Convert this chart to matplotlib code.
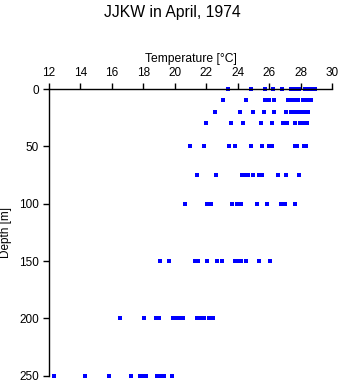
import numpy as np
import matplotlib
matplotlib.use('Agg')
import matplotlib.pyplot as plt

plt.rcParams['font.family'] = ['Liberation Sans', 'DejaVu Sans']

depths = [0, 10, 20, 30, 50, 75, 100, 150, 200, 250]
t_0 = [23.35, 24.85, 25.75, 26.25, 26.8, 27.4, 27.6, 27.9, 28.25, 28.45, 28.6, 28.75, 28.9]
t_10 = [23.05, 24.55, 25.75, 26.0, 26.3, 27.2, 27.4, 27.6, 27.85, 28.15, 28.3, 28.45, 28.65]
t_20 = [22.55, 24.15, 24.95, 25.65, 26.3, 27.05, 27.35, 27.55, 27.8, 28.0, 28.2, 28.45]
t_30 = [21.95, 23.55, 24.35, 25.5, 26.2, 26.9, 27.15, 27.6, 27.95, 28.2, 28.4]
t_50 = [20.95, 21.85, 23.45, 23.85, 24.85, 25.55, 25.95, 26.2, 27.6, 27.75, 28.2, 28.3]
t_75 = [21.4, 22.6, 24.25, 24.45, 24.65, 24.95, 25.35, 25.55, 26.55, 27.05, 27.9]
t_100 = [20.65, 22.05, 22.3, 23.65, 23.95, 24.2, 25.2, 25.85, 26.75, 27.0, 27.6]
t_150 = [19.05, 19.65, 21.3, 21.5, 22.05, 22.7, 23.0, 23.85, 24.05, 24.2, 24.55, 25.35, 26.05]
t_200 = [16.55, 18.05, 18.8, 19.0, 19.9, 20.1, 20.3, 20.55, 21.4, 21.6, 21.85, 22.2, 22.4]
t_250 = [12.3, 14.3, 15.85, 17.25, 17.8, 18.0, 18.2, 18.85, 19.05, 19.3, 19.8]
temps = [t_0, t_10, t_20, t_30, t_50, t_75, t_100, t_150, t_200, t_250]

fig = plt.figure(figsize=(3.41, 3.84), dpi=100)
ax = fig.add_axes([48.8/341, 1-375.7/384, (332.3-48.8)/341, (375.7-89)/384])

for d, t in zip(depths, temps):
	ax.plot(t, [d]*len(t), 's', color='#0000ff', ms=2.4, mew=0, clip_on=False)

ax.set_xlim(12, 30)
ax.set_ylim(250, 0)
ax.set_xticks(np.arange(12, 31, 2))
ax.set_yticks(np.arange(0, 251, 50))
ax.xaxis.tick_top()
ax.xaxis.set_label_position('top')
for s in ['right', 'bottom']:
	ax.spines[s].set_visible(False)
for s in ['top', 'left']:
	ax.spines[s].set_linewidth(1.0)
ax.tick_params(direction='out', length=4, width=1.0, labelsize=8.5, pad=3)
ax.set_xlabel('Temperature [°C]', fontsize=8.7, labelpad=4)
ax.set_ylabel('Depth [m]', fontsize=8.5, labelpad=5)
fig.text(0.505, 1-12/384, 'JJKW in April, 1974', ha='center', va='center', fontsize=11.3)

plt.savefig('out.png', dpi=100)
